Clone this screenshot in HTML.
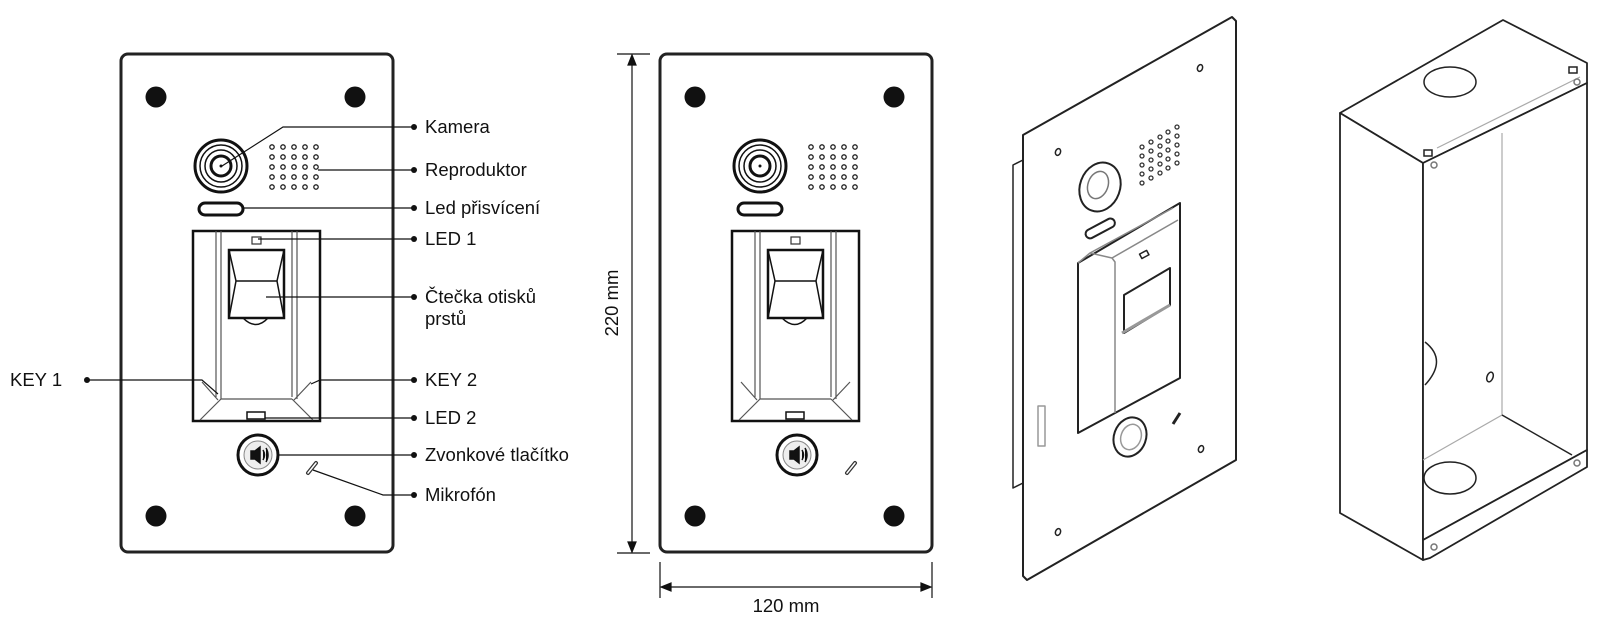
<!DOCTYPE html><html><head><meta charset="utf-8"><style>html,body{margin:0;padding:0;background:#fff}svg{display:block}text{font-family:"Liberation Sans",Arial,sans-serif;font-size:18.5px;fill:#111}</style></head><body>
<svg width="1607" height="643" viewBox="0 0 1607 643" xmlns="http://www.w3.org/2000/svg">
<defs>
<g id="panel">
<rect x="121" y="54" width="272" height="498" rx="7" fill="#fff" stroke="#222" stroke-width="3"/>
<circle cx="156" cy="97" r="10.5" fill="#111"/><circle cx="355" cy="97" r="10.5" fill="#111"/>
<circle cx="156" cy="516" r="10.5" fill="#111"/><circle cx="355" cy="516" r="10.5" fill="#111"/>
<circle cx="221" cy="166" r="26" fill="#fff" stroke="#111" stroke-width="3"/>
<circle cx="221" cy="166" r="21" fill="none" stroke="#111" stroke-width="1.5"/>
<circle cx="221" cy="166" r="16" fill="none" stroke="#111" stroke-width="1.5"/>
<circle cx="221" cy="166" r="10" fill="none" stroke="#111" stroke-width="3"/>
<circle cx="221" cy="166" r="1.5" fill="#111"/>
<g fill="none" stroke="#222" stroke-width="1.3">
<circle cx="272" cy="147" r="2.2"/><circle cx="283" cy="147" r="2.2"/><circle cx="294" cy="147" r="2.2"/><circle cx="305" cy="147" r="2.2"/><circle cx="316" cy="147" r="2.2"/>
<circle cx="272" cy="157" r="2.2"/><circle cx="283" cy="157" r="2.2"/><circle cx="294" cy="157" r="2.2"/><circle cx="305" cy="157" r="2.2"/><circle cx="316" cy="157" r="2.2"/>
<circle cx="272" cy="167" r="2.2"/><circle cx="283" cy="167" r="2.2"/><circle cx="294" cy="167" r="2.2"/><circle cx="305" cy="167" r="2.2"/><circle cx="316" cy="167" r="2.2"/>
<circle cx="272" cy="177" r="2.2"/><circle cx="283" cy="177" r="2.2"/><circle cx="294" cy="177" r="2.2"/><circle cx="305" cy="177" r="2.2"/><circle cx="316" cy="177" r="2.2"/>
<circle cx="272" cy="187" r="2.2"/><circle cx="283" cy="187" r="2.2"/><circle cx="294" cy="187" r="2.2"/><circle cx="305" cy="187" r="2.2"/><circle cx="316" cy="187" r="2.2"/>
</g>
<rect x="199" y="203" width="44" height="12" rx="6" fill="#fff" stroke="#111" stroke-width="3"/>
<rect x="193" y="231" width="127" height="190" fill="#fff" stroke="#111" stroke-width="2.5"/>
<g stroke="#555" stroke-width="1.2" fill="none">
<line x1="216" y1="231" x2="216" y2="397"/><line x1="221" y1="231" x2="221" y2="399"/>
<line x1="292" y1="231" x2="292" y2="397"/><line x1="297" y1="231" x2="297" y2="399"/>
<path d="M221 399 L292 399 M221 399 L200 420 M292 399 L313 420 M202 382 L218 400 M311 382 L294 400"/>
</g>
<rect x="252" y="237" width="9" height="7" fill="none" stroke="#333" stroke-width="1.2"/>
<path d="M229 250 H284 V318 H229 Z" fill="#fff" stroke="#111" stroke-width="2.5"/>
<path d="M229 250 L236 281 L229 318 M284 250 L277 281 L284 318 M236 281 H277" fill="none" stroke="#111" stroke-width="1.5"/>
<path d="M243 318 Q256 331 268 318" fill="none" stroke="#111" stroke-width="1.5"/>
<rect x="247" y="412" width="18" height="7" fill="#fff" stroke="#111" stroke-width="1.5"/>
<circle cx="258" cy="455" r="20" fill="#fff" stroke="#111" stroke-width="3"/>
<circle cx="258" cy="455" r="14" fill="#eee" stroke="#888" stroke-width="1"/>
<path d="M251 451 h4 l5 -4 v16 l-5 -4 h-4 z M263 450 q3 5 0 10 M266 448 q4 7 0 14" fill="#111" stroke="#111" stroke-width="1.5"/>
<line x1="308" y1="473" x2="316" y2="463" stroke="#333" stroke-width="4" stroke-linecap="round"/>
<line x1="308" y1="473" x2="316" y2="463" stroke="#fff" stroke-width="1.5" stroke-linecap="round"/>
</g>
</defs>
<use href="#panel"/>
<use href="#panel" transform="translate(539 0)"/>
<g stroke="#111" stroke-width="1.2" fill="none">
<path d="M222 166 L283 127 H414"/><path d="M318 170 H414"/><path d="M243 208 H414"/><path d="M258 239 H414"/>
<path d="M266 297 H414"/><path d="M311 384 L320 380 H414"/><path d="M265 418 H414"/><path d="M278 455 H414"/>
<path d="M313 470 L383 495 H414"/><path d="M87 380 H202 L218 394"/>
</g>
<g fill="#111"><circle cx="414" cy="127" r="3"/><circle cx="414" cy="170" r="3"/><circle cx="414" cy="208" r="3"/><circle cx="414" cy="239" r="3"/><circle cx="414" cy="297" r="3"/><circle cx="414" cy="380" r="3"/><circle cx="414" cy="418" r="3"/><circle cx="414" cy="455" r="3"/><circle cx="414" cy="495" r="3"/><circle cx="87" cy="380" r="3"/></g>
<text x="425" y="133">Kamera</text><text x="425" y="176">Reproduktor</text><text x="425" y="214">Led přisvícení</text><text x="425" y="245">LED 1</text>
<text x="425" y="303">Čtečka otisků</text><text x="425" y="325">prstů</text><text x="425" y="386">KEY 2</text><text x="425" y="424">LED 2</text>
<text x="425" y="461">Zvonkové tlačítko</text><text x="425" y="501">Mikrofón</text><text x="10" y="386">KEY 1</text>
<g stroke="#111" stroke-width="1.2" fill="#111">
<line x1="617" y1="54" x2="650" y2="54"/><line x1="617" y1="553" x2="650" y2="553"/>
<line x1="632" y1="58" x2="632" y2="549"/>
<path d="M632 55 l-4 10 h8 z M632 552 l-4 -10 h8 z"/>
<line x1="660" y1="562" x2="660" y2="598"/><line x1="932" y1="562" x2="932" y2="598"/>
<line x1="664" y1="587" x2="928" y2="587"/>
<path d="M661 587 l10 -4 v8 z M931 587 l-10 -4 v8 z"/>
</g>
<text x="618" y="303" text-anchor="middle" transform="rotate(-90 618 303)">220 mm</text>
<text x="786" y="612" text-anchor="middle">120 mm</text>
<!-- 3D panel -->
<g stroke="#222" stroke-width="1.5" fill="#fff" stroke-linejoin="round">
<path d="M1013 165 L1023 160 L1023 483 L1013 488 Z"/>
<path d="M1023 135 L1232 17 L1236 21 L1236 460 L1027 580 L1023 576 Z" stroke-width="2"/>
<ellipse cx="1058" cy="152" rx="2.5" ry="3.5" transform="rotate(20 1058 152)"/><ellipse cx="1200" cy="68" rx="2.5" ry="3.5" transform="rotate(20 1200 68)"/>
<ellipse cx="1201" cy="449" rx="2.5" ry="3.5" transform="rotate(20 1201 449)"/><ellipse cx="1058" cy="532" rx="2.5" ry="3.5" transform="rotate(20 1058 532)"/>
<ellipse cx="1100" cy="187" rx="20" ry="25" transform="rotate(20 1100 187)" stroke-width="2"/>
<ellipse cx="1098" cy="185" rx="10" ry="14" transform="rotate(20 1098 185)" stroke="#777"/>
<rect x="1084" y="224" width="32" height="9" rx="4.5" transform="rotate(-28 1100 228)" stroke-width="2"/>
<path d="M1078 263 L1180 203 L1180 378 L1078 433 Z" stroke-width="2"/>
<path d="M1078 263 L1090 253 L1173 208 M1090 253 L1112 258 L1115 262 L1115 413 M1112 258 L1178 220" fill="none" stroke="#888"/>
<path d="M1124 295 L1170 268 L1170 305 L1124 333 Z" stroke-width="2"/>
<path d="M1122 333 L1170 305" stroke="#999" stroke-width="3"/>
<rect x="1140" y="252" width="8" height="5" transform="rotate(-28 1144 254)"/>
<ellipse cx="1130" cy="437" rx="16" ry="20" transform="rotate(20 1130 437)" stroke-width="2"/>
<ellipse cx="1131" cy="437" rx="10" ry="13" transform="rotate(20 1131 437)" stroke="#999"/>
<line x1="1173" y1="424" x2="1180" y2="413" stroke-width="3"/>
<rect x="1038" y="406" width="7" height="40" stroke="#999"/>
</g>
<g fill="none" stroke="#333" stroke-width="1.3" transform="translate(1142 183)">
<circle cx="0" cy="0" r="2"/><circle cx="0" cy="-9" r="2"/><circle cx="0" cy="-18" r="2"/><circle cx="0" cy="-27" r="2"/><circle cx="0" cy="-36" r="2"/>
<circle cx="9" cy="-5" r="2"/><circle cx="9" cy="-14" r="2"/><circle cx="9" cy="-23" r="2"/><circle cx="9" cy="-32" r="2"/><circle cx="9" cy="-41" r="2"/>
<circle cx="18" cy="-10" r="2"/><circle cx="18" cy="-19" r="2"/><circle cx="18" cy="-28" r="2"/><circle cx="18" cy="-37" r="2"/><circle cx="18" cy="-46" r="2"/>
<circle cx="26" cy="-15" r="2"/><circle cx="26" cy="-24" r="2"/><circle cx="26" cy="-33" r="2"/><circle cx="26" cy="-42" r="2"/><circle cx="26" cy="-51" r="2"/>
<circle cx="35" cy="-20" r="2"/><circle cx="35" cy="-29" r="2"/><circle cx="35" cy="-38" r="2"/><circle cx="35" cy="-47" r="2"/><circle cx="35" cy="-56" r="2"/>
</g>
<!-- Box -->
<g stroke="#222" stroke-width="1.8" fill="#fff" stroke-linejoin="round">
<path d="M1340 113 L1503 20 L1587 63 L1587 83 L1423 163 Z"/>
<path d="M1340 113 L1423 163 L1423 560 L1340 513 Z"/>
<path d="M1423 163 L1587 83 L1587 450 L1423 540 Z"/>
<path d="M1423 540 L1587 450 L1587 467 L1430 558 L1423 560 Z"/>
</g>
<g fill="none" stroke="#aaa" stroke-width="1.2">
<path d="M1502 133 L1502 415 L1423 460 M1437 148 L1580 77"/>
</g>
<path d="M1502 415 L1572 455" stroke="#222" stroke-width="1.5"/>
<g fill="#fff" stroke="#222" stroke-width="1.5">
<ellipse cx="1450" cy="82" rx="26" ry="15"/>
<ellipse cx="1450" cy="478" rx="26" ry="16"/>
<path d="M1425 342 Q1448 360 1425 385" fill="none"/>
<ellipse cx="1490" cy="377" rx="3" ry="5" transform="rotate(20 1490 377)"/>
<circle cx="1434" cy="165" r="3" stroke="#777"/><circle cx="1577" cy="82" r="3" stroke="#777"/><circle cx="1577" cy="463" r="3" stroke="#777"/><circle cx="1434" cy="547" r="3" stroke="#777"/>
<rect x="1424" y="150" width="8" height="6"/><rect x="1569" y="67" width="8" height="6"/>
</g>
</svg>
</body></html>
